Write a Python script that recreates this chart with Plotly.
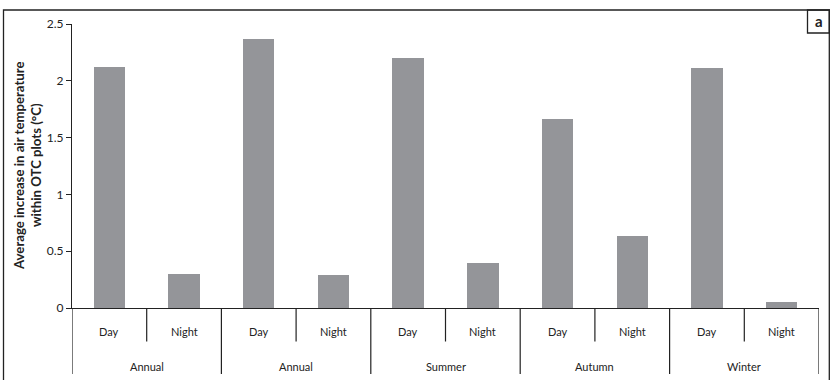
import plotly.graph_objects as go

sub_labels = ["Day", "Night", "Day", "Night", "Day", "Night", "Day", "Night", "Day", "Night"]
group_labels = ["Annual", "Annual", "Summer", "Autumn", "Winter"]
values = [2.12, 0.30, 2.37, 0.29, 2.20, 0.40, 1.66, 0.63, 2.11, 0.05]
y_ticks = [0, 0.5, 1, 1.5, 2, 2.5]
y_tick_text = ["0", "0.5", "1", "1.5", "2", "2.5"]

W, H = 838, 380
L, R, T, B = 72, 19, 24, 72
pw, ph = W - L - R, H - T - B

def px(xp):
    return (xp - L) / pw

def py(yp):
    return (H - B - yp) / ph

FONT = "Lato, 'Open Sans', sans-serif"
x_idx = list(range(len(values)))

fig = go.Figure(go.Bar(
    x=x_idx, y=values, width=0.42,
    marker=dict(color="rgb(148,149,153)", line=dict(width=0)),
    hoverinfo="y",
))

shapes = []
# outer frame
shapes.append(dict(type="rect", xref="paper", yref="paper",
                   x0=px(3.5), x1=px(829.3), y0=py(395), y1=py(10),
                   line=dict(color="#222", width=1.3), layer="below"))
# label box "a"
shapes.append(dict(type="rect", xref="paper", yref="paper",
                   x0=px(807.5), x1=px(829.3), y0=py(33), y1=py(10),
                   line=dict(color="#222", width=1.3)))
# category dividers
n = len(values)
for i in range(n + 1):
    major = (i % 2 == 0)
    shapes.append(dict(type="line", xref="x", yref="paper",
                       x0=i - 0.5, x1=i - 0.5, y0=0,
                       y1=py(374) if major else py(341.5),
                       line=dict(color="#222", width=1.2)))

annotations = []
for i, lab in enumerate(sub_labels):
    annotations.append(dict(x=i, y=py(331), xref="x", yref="paper", text=lab,
                            showarrow=False, font=dict(size=11, color="#222", family=FONT),
                            xanchor="center", yanchor="middle"))
for g, lab in enumerate(group_labels):
    annotations.append(dict(x=2 * g + 0.5, y=py(366), xref="x", yref="paper", text=lab,
                            showarrow=False, font=dict(size=11, color="#222", family=FONT),
                            xanchor="center", yanchor="middle"))
annotations.append(dict(x=px(27), y=py(166), xref="paper", yref="paper",
                        text="<b>Average increase in air temperature<br>within OTC plots (°C)</b>",
                        textangle=-90, showarrow=False,
                        font=dict(size=13.2, color="#222", family=FONT),
                        xanchor="center", yanchor="middle"))
annotations.append(dict(x=px(818.5), y=py(21), xref="paper", yref="paper", text="<b>a</b>",
                        showarrow=False, font=dict(size=15, color="#222", family=FONT),
                        xanchor="center", yanchor="middle"))

fig.update_layout(
    width=W, height=H,
    margin=dict(l=L, r=R, t=T, b=B, pad=0),
    paper_bgcolor="white", plot_bgcolor="white",
    showlegend=False,
    shapes=shapes, annotations=annotations,
    font=dict(family=FONT, size=11, color="#222"),
    xaxis=dict(range=[-0.5, n - 0.5], showgrid=False, zeroline=False,
               showline=True, linecolor="#222", linewidth=1.2,
               showticklabels=False, ticks="", fixedrange=True),
    yaxis=dict(range=[0, 2.5], tickvals=y_ticks, ticktext=y_tick_text,
               showgrid=False, zeroline=False, showline=True,
               linecolor="#222", linewidth=1.2, ticks="outside", ticklen=5,
               tickcolor="#222", tickwidth=1.2,
               tickfont=dict(size=12, color="#222", family=FONT),
               fixedrange=True),
    bargap=0,
)

fig.write_html("out.html", config={"displayModeBar": False},
               post_script="document.body.style.margin='0';document.body.style.overflow='hidden';")
